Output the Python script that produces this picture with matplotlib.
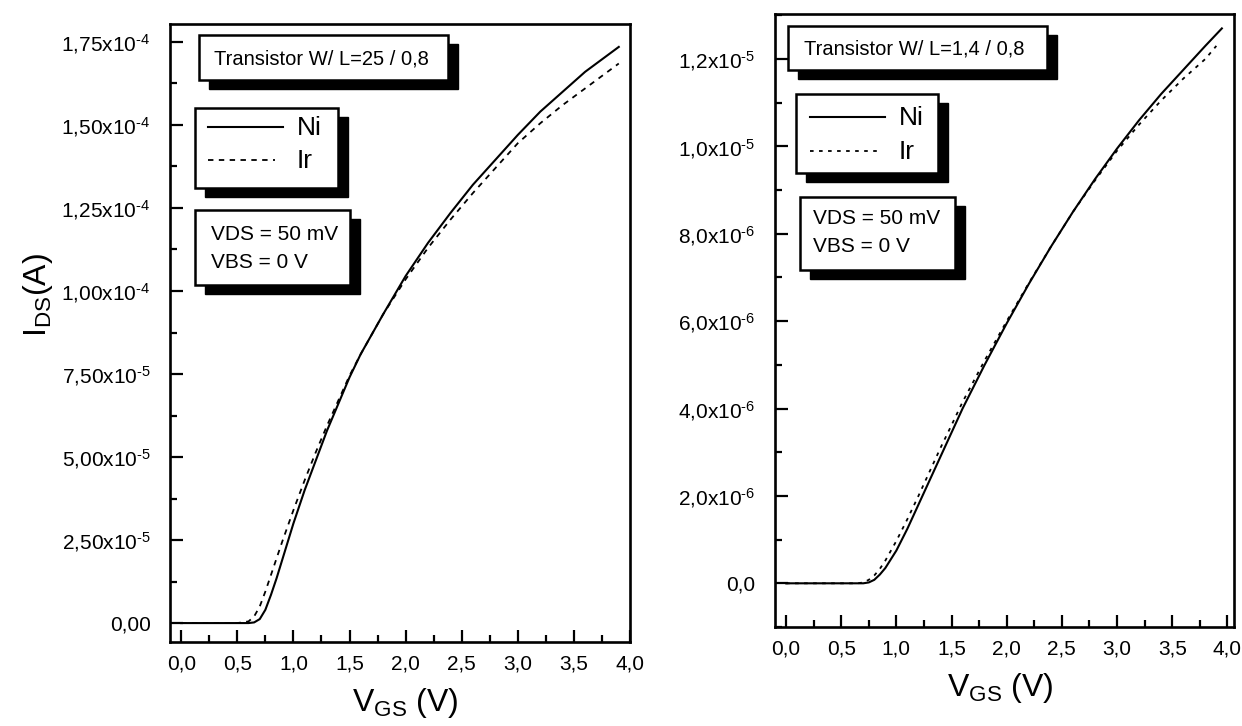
import matplotlib
matplotlib.use("Agg")
import matplotlib.pyplot as plt
from matplotlib.patches import Rectangle
from matplotlib.lines import Line2D
from matplotlib.ticker import MultipleLocator, FuncFormatter

plt.rcParams['font.family'] = ['Liberation Sans', 'DejaVu Sans']
plt.rcParams['mathtext.fontset'] = 'custom'
plt.rcParams['mathtext.rm'] = 'Liberation Sans'
plt.rcParams['mathtext.it'] = 'Liberation Sans:italic'

# transistor W/L = 25/0,8 (current in units of 1e-5 A)
vgs_a = [0.0, 0.5, 0.6, 0.65, 0.7, 0.75, 0.8, 0.85, 0.9, 1.0, 1.1, 1.2, 1.3, 1.4, 1.5,
         1.6, 1.8, 2.0, 2.2, 2.4, 2.6, 2.8, 3.0, 3.2, 3.4, 3.6, 3.8, 3.9]
ni_a = [0, 0, 0, 0.02, 0.12, 0.4, 0.85, 1.35, 1.9, 3.0, 4.0, 4.9, 5.8, 6.6, 7.4,
        8.1, 9.3, 10.45, 11.45, 12.35, 13.2, 13.95, 14.7, 15.4, 16.0, 16.6, 17.1, 17.35]
ir_a = [0, 0, 0.05, 0.2, 0.5, 0.95, 1.45, 1.95, 2.45, 3.4, 4.3, 5.15, 5.95, 6.7, 7.45,
        8.1, 9.3, 10.35, 11.3, 12.15, 12.95, 13.7, 14.45, 15.05, 15.6, 16.1, 16.6, 16.85]

# transistor W/L = 1,4/0,8 (current in units of 1e-6 A)
vgs_b = [0.0, 0.5, 0.7, 0.75, 0.8, 0.85, 0.9, 1.0, 1.1, 1.2, 1.3, 1.4, 1.5, 1.6,
         1.8, 2.0, 2.2, 2.4, 2.6, 2.8, 3.0, 3.2, 3.4, 3.6, 3.8, 3.95]
ni_b = [0, 0, 0, 0.02, 0.08, 0.2, 0.35, 0.75, 1.25, 1.8, 2.35, 2.9, 3.45, 4.0,
        5.0, 5.95, 6.85, 7.7, 8.5, 9.25, 9.95, 10.6, 11.2, 11.75, 12.3, 12.7]
vgs_b_ir = [0.0, 0.5, 0.65, 0.7, 0.75, 0.8, 0.85, 0.9, 1.0, 1.1, 1.2, 1.3, 1.4, 1.5, 1.6,
            1.8, 2.0, 2.2, 2.4, 2.6, 2.8, 3.0, 3.2, 3.4, 3.6, 3.8, 3.9]
ir_b = [0, 0, 0, 0.02, 0.08, 0.18, 0.33, 0.52, 0.97, 1.47, 2.0, 2.55, 3.1, 3.62, 4.15,
        5.1, 6.0, 6.87, 7.7, 8.5, 9.22, 9.9, 10.5, 11.05, 11.55, 12.0, 12.3]

W, H = 1242, 726
fig = plt.figure(figsize=(W / 100, H / 100), dpi=100)

HY = '\u2010'  # plain hyphen in the exponents, like the original


def frac(x, y):
    return x / W, 1 - y / H


def shadow_box(x0, y0, x1, y1, dx=10, dy=9):
    fx, fy = frac(x0 + dx, y1 + dy)
    fig.patches.append(Rectangle((fx, fy), (x1 - x0) / W, (y1 - y0) / H,
                                 transform=fig.transFigure, facecolor='black',
                                 edgecolor='black', zorder=5))
    fx, fy = frac(x0, y1)
    fig.patches.append(Rectangle((fx, fy), (x1 - x0) / W, (y1 - y0) / H,
                                 transform=fig.transFigure, facecolor='white',
                                 edgecolor='black', linewidth=1.8, zorder=6))


def legend_line(x0, x1, y, **kw):
    (a, b), (c, d) = frac(x0, y), frac(x1, y)
    fig.add_artist(Line2D([a, c], [b, d], transform=fig.transFigure, color='black',
                          zorder=7, **kw))


def fmt_a(v, pos):
    if abs(v) < 1e-12:
        return '0,00'
    e = 4 if v >= 1e-4 - 1e-12 else 5
    m = v * 10.0 ** e
    return ('%.2f' % m).replace('.', ',') + 'x10$^{' + HY + str(e) + '}$'


def fmt_b(v, pos):
    if abs(v) < 1e-12:
        return '0,0'
    e = 5 if v >= 1e-5 - 1e-12 else 6
    m = v * 10.0 ** e
    return ('%.1f' % m).replace('.', ',') + 'x10$^{' + HY + str(e) + '}$'


def fmt_x(v, pos):
    return ('%.1f' % v).replace('.', ',')


def style(ax):
    for s in ax.spines.values():
        s.set_linewidth(1.9)
    ax.tick_params(which='both', direction='in', top=False, right=False, width=1.6,
                   labelsize=15)
    ax.tick_params(which='major', length=9)
    ax.tick_params(which='minor', length=5)
    ax.tick_params(axis='y', pad=14)
    ax.tick_params(axis='x', pad=9)
    ax.xaxis.set_major_locator(MultipleLocator(0.5))
    ax.xaxis.set_minor_locator(MultipleLocator(0.25))
    ax.xaxis.set_major_formatter(FuncFormatter(fmt_x))


# left panel
ax1 = fig.add_axes([170 / W, 1 - 642 / H, 460 / W, 618 / H])
ax1.plot(vgs_a, [v * 1e-5 for v in ni_a], color='black', lw=1.5)
ax1.plot(vgs_a, [v * 1e-5 for v in ir_a], color='black', lw=1.3, dashes=(3, 3))
ax1.set_xlim(-0.1, 4.0)
ax1.set_ylim(-5.7e-6, 1.804e-4)
style(ax1)
ax1.yaxis.set_major_locator(MultipleLocator(2.5e-5))
ax1.yaxis.set_minor_locator(MultipleLocator(1.25e-5))
ax1.yaxis.set_major_formatter(FuncFormatter(fmt_a))

# right panel
ax2 = fig.add_axes([775 / W, 1 - 627 / H, 459 / W, 613 / H])
ax2.plot(vgs_b, [v * 1e-6 for v in ni_b], color='black', lw=1.5)
ax2.plot(vgs_b_ir, [v * 1e-6 for v in ir_b], color='black', lw=1.3, dashes=(2, 3))
ax2.set_xlim(-0.1, 4.06)
ax2.set_ylim(-1.0e-6, 1.303e-5)
style(ax2)
ax2.yaxis.set_major_locator(MultipleLocator(2e-6))
ax2.yaxis.set_minor_locator(MultipleLocator(1e-6))
ax2.yaxis.set_major_formatter(FuncFormatter(fmt_b))

# axis labels
fig.text(*frac(38, 295), r'I$_{\mathregular{DS}}$(A)', rotation=90, fontsize=23,
         ha='center', va='center')
fig.text(*frac(405, 703), r'V$_{\mathregular{GS}}$ (V)', fontsize=23, ha='center', va='center')
fig.text(*frac(1000, 688), r'V$_{\mathregular{GS}}$ (V)', fontsize=23, ha='center', va='center')

# left panel boxes
shadow_box(199, 35, 448, 80)
fig.text(*frac(214, 59), 'Transistor W/ L=25 / 0,8', fontsize=14.5, va='center', zorder=8)
shadow_box(195, 108, 338, 188)
legend_line(208, 283, 127, lw=1.5)
legend_line(208, 275, 160, lw=1.3, dashes=(3, 3))
fig.text(*frac(297, 128), 'Ni', fontsize=19, va='center', zorder=8)
fig.text(*frac(297, 161), 'Ir', fontsize=19, va='center', zorder=8)
shadow_box(195, 210, 350, 285)
fig.text(*frac(211, 235), 'VDS = 50 mV', fontsize=15, va='center', zorder=8)
fig.text(*frac(211, 262), 'VBS = 0 V', fontsize=15, va='center', zorder=8)

# right panel boxes
shadow_box(788, 26, 1047, 70)
fig.text(*frac(804, 49), 'Transistor W/ L=1,4 / 0,8', fontsize=14.5, va='center', zorder=8)
shadow_box(796, 94, 938, 173)
legend_line(810, 885, 117, lw=1.5)
legend_line(810, 877, 151, lw=1.3, dashes=(2, 3))
fig.text(*frac(899, 118), 'Ni', fontsize=19, va='center', zorder=8)
fig.text(*frac(899, 152), 'Ir', fontsize=19, va='center', zorder=8)
shadow_box(800, 197, 955, 270)
fig.text(*frac(813, 219), 'VDS = 50 mV', fontsize=15, va='center', zorder=8)
fig.text(*frac(813, 247), 'VBS = 0 V', fontsize=15, va='center', zorder=8)

fig.savefig('out.png', dpi=100)
